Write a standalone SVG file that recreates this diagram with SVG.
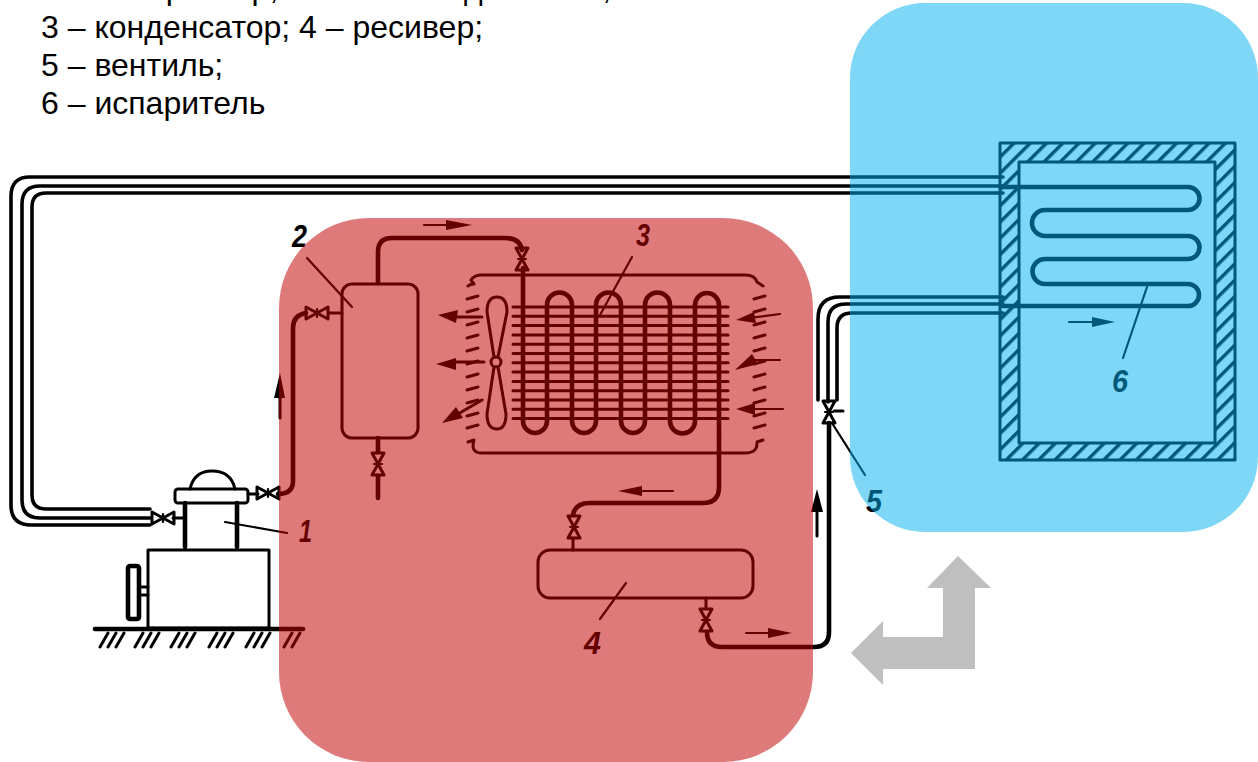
<svg xmlns="http://www.w3.org/2000/svg" width="1258" height="762" viewBox="0 0 1258 762">
<style>
text{font-family:"Liberation Sans",Arial,sans-serif}
.cap{font-size:32px;fill:#000}
.n{font-size:31px;font-weight:bold;font-style:italic;fill:#000}
.l,.t,.m,.h{fill:none;stroke:#000;stroke-linecap:round;stroke-linejoin:round}
.l{stroke-width:3.6}
.t{stroke-width:4.6}
.m{stroke-width:3}
.h{stroke-width:2.2}
.a{fill:#000;stroke:none}
</style>
<defs>
<g id="valve"><path class="m" d="M-6-11H6L-6 11H6Z"/><path class="h" d="M-4 0H4"/></g>
<pattern id="hatch" width="11.5" height="11.5" patternUnits="userSpaceOnUse" patternTransform="rotate(45)">
<rect width="3.4" height="11.5" fill="#000"/>
</pattern>
</defs>
<rect width="1258" height="762" fill="#fff"/>
<g id="caption">
<text class="cap" x="41" y="-1">1 – компрессор; 2 – маслоотделитель;</text>
<text class="cap" x="41" y="38">3 – конденсатор; 4 – ресивер;</text>
<text class="cap" x="41" y="76">5 – вентиль;</text>
<text class="cap" x="41" y="114">6 – испаритель</text>
</g>
<g id="connectors">
<g id="suction-pipe">
<path class="l" d="M1003 177H30Q11 177 11 196V505Q11 525 31 525H150"/>
<path class="l" d="M1003 186H40Q22 186 22 204V500Q22 518 40 518H150"/>
<path class="l" d="M1003 193H46Q32 193 32 207V495Q32 509 46 509H150"/>
</g>
<g id="liquid-pipe">
<path class="l" d="M1003 297H840Q818 297 818 319V400"/>
<path class="l" d="M1003 304H846Q828 304 828 322V402"/>
<path class="l" d="M1003 313H852Q837 313 837 328V400"/>
<path class="t" d="M829 423V632Q829 647 814 647H722Q707 647 707 632"/>
<path class="m" d="M706 598V608"/>
</g>
<g id="hot-gas">
<path class="t" d="M278 494Q293 494 293 481V328Q293 315 306 313"/>
<path class="m" d="M329 313H342"/>
<path class="m" d="M248 494H258"/>
<path class="t" d="M378 283V252Q378 238 392 238H505Q520 238 522 250"/>
<path class="m" d="M173 518H185"/>
<path class="t" d="M378 438V452M378 476V498"/>
</g>
<g id="condensate">
<path class="t" d="M719 433V487Q719 503 703 503H590Q575 503 573 515"/>
<path class="m" d="M573 538V550"/>
</g>
<g id="flow-arrows">
<path class="h" d="M424 225H446"/><path class="a" d="M472 225L446 220V230Z"/>
<path class="m" d="M280 418V394"/><path class="a" d="M280 373L274 398H285Z"/>
<path class="m" d="M817 536V510"/><path class="a" d="M817 489L811 512H823Z"/>
<path class="h" d="M673 491H640"/><path class="a" d="M618 491L642 486V496Z"/>
<path class="h" d="M746 633H772"/><path class="a" d="M792 633L768 628V638Z"/>
<path class="h" d="M1069 322H1092"/><path class="a" d="M1115 322L1092 317V327Z"/>
<path class="m" d="M482 317H455"/><path class="a" d="M438 315L458 310 456 323Z"/>
<path class="m" d="M484 362H455"/><path class="a" d="M436 364L456 358V370Z"/>
<path class="m" d="M482 400L458 414"/><path class="a" d="M442 423L456 407 463 418Z"/>
<path class="h" d="M780 314L750 318"/><path class="a" d="M736 320L754 312 756 323Z"/>
<path class="h" d="M780 360H755"/><path class="a" d="M735 370L752 354 758 364Z"/>
<path class="h" d="M783 409H755"/><path class="a" d="M736 409L755 403V415Z"/>
</g>
<g id="leaders">
<path class="h" d="M225 522L287 533"/>
<path class="h" d="M307 258L352 307"/>
<path class="h" d="M632 257L600 315"/>
<path class="h" d="M626 583L600 619"/>
<path class="h" d="M832 423L865 475"/>
<path class="h" d="M1147 287L1123 358"/>
</g>
</g>
<g id="compressor">
<path class="m" d="M190 489Q194 471 212 471Q231 471 235 489"/>
<rect class="m" x="175" y="489" width="73" height="14" rx="3"/>
<path class="t" d="M185 503V547M237 503V547"/>
<rect class="m" x="148" y="550" width="121" height="78"/>
<rect class="t" x="128" y="566" width="11" height="53" rx="2"/>
<path class="m" d="M140 587H148M140 595H148"/>
<path class="t" d="M95 629H303"/>
<path class="m" d="M100 647L108 633M108 647L116 633M116 647L124 633M135 647L143 633M143 647L151 633M151 647L159 633M171 647L179 633M179 647L187 633M187 647L195 633M209 647L217 633M217 647L225 633M225 647L233 633M246 647L254 633M254 647L262 633M262 647L270 633M284 647L292 633M292 647L300 633"/>
<text class="n" x="299" y="542" textLength="13" lengthAdjust="spacingAndGlyphs">1</text>
</g>
<g id="valves">
<use href="#valve" transform="translate(163 518) rotate(90)"/>
<use href="#valve" transform="translate(268 493) rotate(90)"/>
<use href="#valve" transform="translate(317 313) rotate(90)"/>
<use href="#valve" transform="translate(378 464)"/>
<use href="#valve" transform="translate(522 259)"/>
<use href="#valve" transform="translate(574 527)"/>
<use href="#valve" transform="translate(706 620)"/>
<use href="#valve" transform="translate(829 412)"/>
<path class="m" d="M834 411H843"/>
</g>
<g id="separator">
<rect class="m" x="342" y="284" width="76" height="154" rx="10"/>
<text class="n" x="292" y="247" textLength="15" lengthAdjust="spacingAndGlyphs">2</text>
</g>
<g id="condenser">
<path class="m" d="M468 286Q470 284 474 284L471 280Q474 275 482 275H745Q755 275 757 282L763 286"/>
<path class="m" d="M468 442L474 440Q470 453 482 453H745Q758 453 757 442L763 440"/>
<path class="m" d="M467 299L478 296M467 312L478 309M467 325L478 322M467 338L478 335M467 351L478 348M467 364L478 361M467 377L478 374M467 390L478 387M467 403L478 400M467 416L478 413M467 428L478 425"/>
<path class="m" d="M754 299L765 296M754 312L765 309M754 325L765 322M754 338L765 335M754 351L765 348M754 364L765 361M754 377L765 374M754 390L765 387M754 403L765 400M754 416L765 413M754 428L765 425"/>
<path class="m" d="M513 307H728M513 316.300H728M513 325.600H728M513 334.900H728M513 344.200H728M513 353.500H728M513 362.800H728M513 372.100H728M513 381.400H728M513 390.700H728M513 400H728M513 409.300H728M513 418.600H728"/>
<path class="t" d="M523 268V421A12 12 0 0 0 547 421V305A12.500 12.500 0 0 1 572 305V421A12 12 0 0 0 596 421V305A12.500 12.500 0 0 1 621 305V421A12 12 0 0 0 645 421V305A12.500 12.500 0 0 1 670 305V421A12.500 12.500 0 0 0 695 421V305A12 12 0 0 1 719 305V433"/>
<circle class="m" cx="496" cy="362" r="5"/>
<path class="m" d="M494 357L487 312Q487 297 497 297Q507 297 507 312L498 357M494 367L487 414Q487 429 497 429Q506 429 506 414L498 367"/>
<text class="n" x="636" y="246" textLength="14" lengthAdjust="spacingAndGlyphs">3</text>
</g>
<g id="receiver">
<rect class="m" x="538" y="550" width="215" height="48" rx="12"/>
<text class="n" x="584" y="654" textLength="17" lengthAdjust="spacingAndGlyphs">4</text>
</g>
<g id="evaporator">
<path fill="url(#hatch)" fill-rule="evenodd" d="M1000 143H1235V460H1000ZM1019 162V443H1215V162Z"/>
<path class="m" d="M1000 143H1235V460H1000ZM1019 162V443H1215V162Z"/>
<path class="t" d="M1003 187H1188A11.500 11.500 0 0 1 1188 210H1045A13 13 0 0 0 1045 236H1188A11.500 11.500 0 0 1 1188 259H1045A12.500 12.500 0 0 0 1045 284H1188A11 11 0 0 1 1188 306H1003"/>
<text class="n" x="866" y="512" textLength="16" lengthAdjust="spacingAndGlyphs">5</text>
<text class="n" x="1112" y="392" textLength="16" lengthAdjust="spacingAndGlyphs">6</text>
</g>
<g id="direction-arrow">
<path fill="#BFBFBF" d="M958 556L991 588H975V669H883V685L851 653L883 621V637H943V588H927Z"/>
</g>
<g id="zones">
<rect id="zone-red" x="279" y="218" width="534" height="544" rx="90" fill="#C00000" fill-opacity=".52"/>
<rect id="zone-blue" x="850" y="3" width="408" height="529" rx="75" fill="#00B0F0" fill-opacity=".5"/>
</g>
</svg>
